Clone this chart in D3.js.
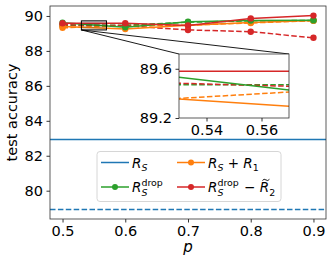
<!DOCTYPE html>
<meta charset="utf-8">
<style>
body { margin: 0; background: #fff; }
text { font-family: "DejaVu Sans", sans-serif; fill: #000; }
</style>
<svg width="333" height="265"></svg>
<script src="https://d3js.org/d3.v7.min.js"></script>
<script>

// data
let pValues = [0.5, 0.6, 0.7, 0.8, 0.9];
let dropSolid = [89.61, 89.35, 89.67, 89.74, 89.76];
let dropDashed = [89.47, 89.47, 89.64, 89.72, 89.74];
let r1Solid = [89.40, 89.25, 89.47, 89.62, 89.74];
let r1Dashed = [89.32, 89.45, 89.47, 89.60, 89.73];
let r2Solid = [89.58, 89.58, 89.45, 89.86, 90.02];
let r2Dashed = [89.50, 89.44, 89.20, 89.10, 88.75];
let rsSolid = 82.93;
let rsDashed = 78.93;
let xTicks = [0.5, 0.6, 0.7, 0.8, 0.9];
let yTicks = [80, 82, 84, 86, 88, 90];
let insetXTicks = [0.54, 0.56];
let insetYTicks = [89.2, 89.6];

let blue = '#1f77b4', orange = '#ff7f0e', green = '#2ca02c', red = '#d62728';

let series = [
  {v: r1Dashed, c: orange, dash: true},
  {v: dropDashed, c: green, dash: true},
  {v: r2Dashed, c: red, dash: true},
  {v: r1Solid, c: orange, dash: false},
  {v: dropSolid, c: green, dash: false},
  {v: r2Solid, c: red, dash: false}
];

let svg = d3.select('svg');
let mLeft = 50, mRight = 326, mTop = 6, mBottom = 219;

let x = d3.scaleLinear().domain([0.48, 0.92]).range([mLeft, mRight]);
let y = d3.scaleLinear().domain([78.38, 90.57]).range([mBottom, mTop]);

let defs = svg.append('defs');
defs.append('clipPath').attr('id', 'main')
  .append('rect').attr('x', mLeft).attr('y', mTop).attr('width', mRight - mLeft).attr('height', mBottom - mTop);

// axes
let xAxis = svg.append('g').attr('transform', 'translate(0,' + mBottom + ')')
  .call(d3.axisBottom(x).tickValues(xTicks).tickSize(3.5).tickPadding(3.5).tickFormat(d3.format('.1f')));
let yAxis = svg.append('g').attr('transform', 'translate(' + mLeft + ',0)')
  .call(d3.axisLeft(y).tickValues(yTicks).tickSize(3.5).tickPadding(3.5));
[xAxis, yAxis].forEach(a => {
  a.select('.domain').remove();
  a.selectAll('text').style('font-size', '14.5px').style('font-family', '"DejaVu Sans"');
  a.selectAll('line').attr('stroke', '#000').attr('stroke-width', 0.8);
});

let plot = svg.append('g').attr('clip-path', 'url(#main)');

// horizontal reference lines
plot.append('line').attr('x1', mLeft).attr('x2', mRight).attr('y1', y(rsSolid)).attr('y2', y(rsSolid))
  .attr('stroke', blue).attr('stroke-width', 1.5);
plot.append('line').attr('x1', mLeft).attr('x2', mRight).attr('y1', y(rsDashed)).attr('y2', y(rsDashed))
  .attr('stroke', blue).attr('stroke-width', 1.5).attr('stroke-dasharray', '5.5,2.4');

let drawSeries = (g, sx, sy, withMarkers) => {
  let line = d3.line().x((d, i) => sx(pValues[i])).y(d => sy(d));
  series.forEach(s => {
    g.append('path').datum(s.v).attr('d', line)
      .attr('fill', 'none').attr('stroke', s.c).attr('stroke-width', 1.5)
      .attr('stroke-dasharray', s.dash ? '5.5,2.4' : null);
    if (withMarkers) {
      g.selectAll(null).data(s.v).enter().append('circle')
        .attr('cx', (d, i) => sx(pValues[i])).attr('cy', d => sy(d)).attr('r', 3.2)
        .attr('fill', s.c);
    }
  });
};
drawSeries(plot, x, y, true);

// inset region
let ix0 = 0.53, ix1 = 0.57, iy0 = 89.2, iy1 = 89.72;
let insL = 179, insR = 289, insT = 54, insB = 118;
let ixs = d3.scaleLinear().domain([ix0, ix1]).range([insL, insR]);
let iys = d3.scaleLinear().domain([iy0, iy1]).range([insB, insT]);

svg.append('rect').attr('x', x(ix0)).attr('y', y(iy1)).attr('width', x(ix1) - x(ix0)).attr('height', y(iy0) - y(iy1))
  .attr('fill', '#000').attr('fill-opacity', 0.12).attr('stroke', '#000').attr('stroke-width', 1);
svg.append('line').attr('x1', x(ix0)).attr('y1', y(iy0)).attr('x2', insL).attr('y2', insT)
  .attr('stroke', '#000').attr('stroke-width', 0.9);
svg.append('line').attr('x1', x(ix0)).attr('y1', y(iy0)).attr('x2', insR).attr('y2', insT)
  .attr('stroke', '#000').attr('stroke-width', 0.9);

defs.append('clipPath').attr('id', 'inset')
  .append('rect').attr('x', insL).attr('y', insT).attr('width', insR - insL).attr('height', insB - insT);
svg.append('rect').attr('x', insL).attr('y', insT).attr('width', insR - insL).attr('height', insB - insT).attr('fill', '#fff');
let inset = svg.append('g').attr('clip-path', 'url(#inset)');
drawSeries(inset, ixs, iys, false);
svg.append('rect').attr('x', insL).attr('y', insT).attr('width', insR - insL).attr('height', insB - insT)
  .attr('fill', 'none').attr('stroke', '#333').attr('stroke-width', 0.8);

let ixAxis = svg.append('g').attr('transform', 'translate(0,' + insB + ')')
  .call(d3.axisBottom(ixs).tickValues(insetXTicks).tickSize(3.5).tickPadding(3.5).tickFormat(d3.format('.2f')));
let iyAxis = svg.append('g').attr('transform', 'translate(' + insL + ',0)')
  .call(d3.axisLeft(iys).tickValues(insetYTicks).tickSize(3.5).tickPadding(3.5).tickFormat(d3.format('.1f')));
[ixAxis, iyAxis].forEach(a => {
  a.select('.domain').remove();
  a.selectAll('text').style('font-size', '14.5px').style('font-family', '"DejaVu Sans"');
  a.selectAll('line').attr('stroke', '#000').attr('stroke-width', 0.8);
});

// frame
svg.append('rect').attr('x', mLeft).attr('y', mTop).attr('width', mRight - mLeft).attr('height', mBottom - mTop)
  .attr('fill', 'none').attr('stroke', '#333').attr('stroke-width', 0.8);

// axis labels
svg.append('text').attr('x', x(0.7)).attr('y', 252).attr('text-anchor', 'middle')
  .style('font-size', '15px').style('font-style', 'italic').text('p');
svg.append('text').attr('transform', 'translate(17,' + ((mTop + mBottom) / 2) + ') rotate(-90)')
  .attr('text-anchor', 'middle').style('font-size', '14.5px').text('test accuracy');

// legend
let legend = svg.append('g');
legend.append('rect').attr('x', 97).attr('y', 151.5).attr('width', 184).attr('height', 50).attr('rx', 3)
  .attr('fill', '#fff').attr('fill-opacity', 0.8).attr('stroke', '#ccc').attr('stroke-width', 0.8);

let fs = 13.5;
let writeLabel = (g, x0, yb, parts) => {
  let cx = x0;
  parts.forEach(p => {
    if (p.stack) {
      let a = g.append('text').attr('x', cx).attr('y', yb + 3.5).style('font-size', (fs * 0.7) + 'px')
        .style('font-style', 'italic').text(p.sub);
      let b = g.append('text').attr('x', cx).attr('y', yb - 6).style('font-size', (fs * 0.7) + 'px').text(p.sup);
      cx += Math.max(a.node().getComputedTextLength(), b.node().getComputedTextLength()) + 1;
    } else {
      let size = p.sub ? fs * 0.7 : fs;
      let t = g.append('text').attr('x', cx).attr('y', yb + (p.sub ? 3.5 : 0))
        .style('font-size', size + 'px').style('font-style', p.it ? 'italic' : 'normal')
        .attr('xml:space', 'preserve').text(p.t);
      let w = t.node().getComputedTextLength();
      if (p.tilde) {
        // small tilde mark drawn as a path above the letter
        let tx = cx + w / 2 + 1.5, ty = yb - 12.5;
        g.append('path')
          .attr('d', 'M' + (tx - 3.5) + ',' + (ty + 1) + ' q1.6,-2.2 3.5,-0.6 t3.5,-0.6')
          .attr('fill', 'none').attr('stroke', '#000').attr('stroke-width', 0.9);
      }
      cx += w;
    }
  });
};

let legendItems = [
  {c: blue, marker: false, lx: 101, ly: 162.5, parts: [{t: 'R', it: true}, {t: 'S', it: true, sub: true}]},
  {c: green, marker: true, lx: 101, ly: 187, parts: [{t: 'R', it: true}, {stack: true, sub: 'S', sup: 'drop'}]},
  {c: orange, marker: true, lx: 177, ly: 162.5, parts: [{t: 'R', it: true}, {t: 'S', it: true, sub: true},
    {t: ' + '}, {t: 'R', it: true}, {t: '1', sub: true}]},
  {c: red, marker: true, lx: 177, ly: 187, parts: [{t: 'R', it: true}, {stack: true, sub: 'S', sup: 'drop'},
    {t: ' \u2212 '}, {t: 'R', it: true, tilde: true}, {t: '2', sub: true}]}
];
legendItems.forEach(d => {
  legend.append('line').attr('x1', d.lx).attr('x2', d.lx + 28).attr('y1', d.ly).attr('y2', d.ly)
    .attr('stroke', d.c).attr('stroke-width', 1.5);
  if (d.marker) legend.append('circle').attr('cx', d.lx + 14).attr('cy', d.ly).attr('r', 3).attr('fill', d.c);
  writeLabel(legend, d.lx + 31, d.ly + 5, d.parts);
});

</script>
